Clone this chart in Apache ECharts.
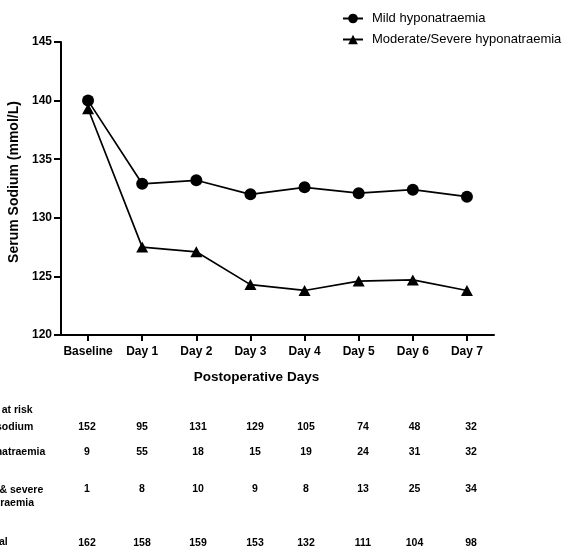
<!DOCTYPE html>
<html>
<head>
<meta charset="utf-8">
<script src="https://cdn.jsdelivr.net/npm/echarts@6/dist/echarts.min.js"></script>
<style>
html,body{margin:0;padding:0;background:#fff;}
#chart{width:566px;height:551px;}
</style>
</head>
<body>
<div id="chart"></div>
<script>
// ---- data ----
var categories = ['Baseline', 'Day 1', 'Day 2', 'Day 3', 'Day 4', 'Day 5', 'Day 6', 'Day 7'];
var mildSodium = [140.0, 132.9, 133.2, 132.0, 132.6, 132.1, 132.4, 131.8];
var modSevSodium = [139.3, 127.5, 127.1, 124.3, 123.8, 124.6, 124.7, 123.8];
var seriesNames = ['Mild hyponatraemia', 'Moderate/Severe hyponatraemia'];
var yTicks = [120, 125, 130, 135, 140, 145];

// numbers at risk table
var riskNormal = [152, 95, 131, 129, 105, 74, 48, 32];
var riskMild = [9, 55, 18, 15, 19, 24, 31, 32];
var riskModSev = [1, 8, 10, 9, 8, 13, 25, 34];
var riskTotal = [162, 158, 159, 153, 132, 111, 104, 98];

// ---- layout ----
var FONT = 'Arial, "Liberation Sans", Helvetica, sans-serif';
var tableCols = [87, 142, 198, 255, 306, 363, 414.5, 471];
var tableRows = [
  {vals: riskNormal, y: 427},
  {vals: riskMild, y: 452},
  {vals: riskModSev, y: 489.5},
  {vals: riskTotal, y: 543}
];
var rowLabels = [
  {text: 'Number at risk', right: 32.7, y: 410},
  {text: 'Normal sodium', right: 33.3, y: 427.5},
  {text: 'Mild hyponatraemia', right: 45.3, y: 452.3},
  {text: 'Moderate & severe', right: 43.3, y: 490},
  {text: 'hyponatraemia', right: 34, y: 503},
  {text: 'Total', right: 7.7, y: 542.5}
];

var graphics = [];
rowLabels.forEach(function (r) {
  graphics.push({
    type: 'text', x: r.right, y: r.y,
    style: {text: r.text, fill: '#000', font: 'bold 10.5px ' + FONT, textAlign: 'right', textVerticalAlign: 'middle'}
  });
});
tableRows.forEach(function (row) {
  row.vals.forEach(function (v, i) {
    graphics.push({
      type: 'text', x: tableCols[i], y: row.y,
      style: {text: String(v), fill: '#000', font: 'bold 10.5px ' + FONT, textAlign: 'center', textVerticalAlign: 'middle'}
    });
  });
});

var chart = echarts.init(document.getElementById('chart'), null, {renderer: 'canvas'});
chart.setOption({
  animation: false,
  backgroundColor: '#fff',
  textStyle: {fontFamily: FONT},
  legend: {
    orient: 'vertical',
    left: 342,
    top: 12,
    padding: 0,
    itemWidth: 20,
    itemHeight: 12,
    itemGap: 8,
    textStyle: {fontSize: 13, color: '#000', fontFamily: FONT, padding: [0, 0, 0, 4]},
    data: seriesNames
  },
  grid: {left: 61, top: 42, width: 433, height: 293, containLabel: false, outerBoundsMode: 'none'},
  xAxis: {
    type: 'category',
    data: categories,
    boundaryGap: true,
    axisLine: {lineStyle: {color: '#000', width: 2}},
    axisTick: {show: true, alignWithLabel: true, interval: 0, length: 6, lineStyle: {color: '#000', width: 2}},
    axisLabel: {interval: 0, color: '#000', fontSize: 12, fontWeight: 'bold', margin: 11, fontFamily: FONT, hideOverlap: false},
    name: 'Postoperative Days',
    nameLocation: 'middle',
    nameGap: 35,
    nameTextStyle: {color: '#000', fontSize: 13.5, fontWeight: 'bold', fontFamily: FONT, padding: [0, 42, 0, 0]},
    splitLine: {show: false}
  },
  yAxis: {
    type: 'value',
    min: yTicks[0],
    max: yTicks[yTicks.length - 1],
    interval: 5,
    axisLine: {show: true, lineStyle: {color: '#000', width: 2}},
    axisTick: {show: true, length: 7, lineStyle: {color: '#000', width: 2}},
    axisLabel: {color: '#000', fontSize: 12, fontWeight: 'bold', margin: 9, fontFamily: FONT},
    splitLine: {show: false},
    name: 'Serum Sodium (mmol/L)',
    nameLocation: 'middle',
    nameRotate: 90,
    nameGap: 32,
    nameTextStyle: {color: '#000', fontSize: 14, fontWeight: 'bold', fontFamily: FONT, padding: [0, 0, 0, 13]}
  },
  series: [
    {
      name: seriesNames[0],
      type: 'line',
      data: mildSodium,
      symbol: 'circle',
      symbolSize: 12,
      itemStyle: {color: '#000'},
      lineStyle: {color: '#000', width: 1.7},
      z: 3
    },
    {
      name: seriesNames[1],
      type: 'line',
      data: modSevSodium,
      symbol: 'triangle',
      symbolSize: [12, 11],
      itemStyle: {color: '#000'},
      lineStyle: {color: '#000', width: 1.7},
      z: 2
    }
  ],
  graphic: graphics
});
</script>
</body>
</html>
